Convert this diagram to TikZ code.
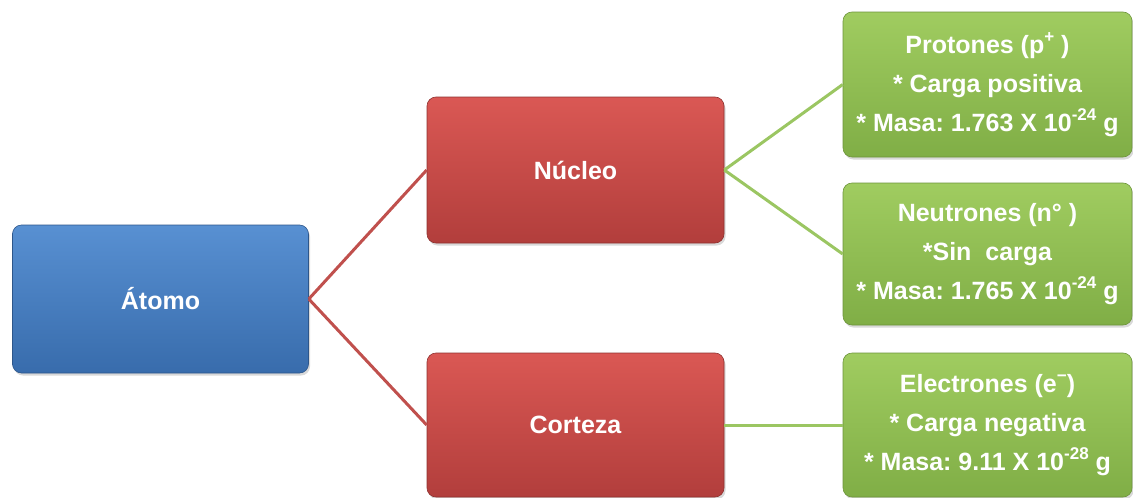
\documentclass[tikz,border=0pt]{standalone}
\usepackage{fontspec}
\setmainfont{Liberation Sans}
\usetikzlibrary{shadows}
\frenchspacing
\definecolor{bluetop}{RGB}{88,144,210}
\definecolor{bluebot}{RGB}{56,108,172}
\definecolor{redtop}{RGB}{218,88,84}
\definecolor{redbot}{RGB}{178,62,60}
\definecolor{greentop}{RGB}{160,204,96}
\definecolor{greenbot}{RGB}{128,174,70}
\definecolor{redline}{RGB}{192,80,77}
\definecolor{greenline}{RGB}{155,198,98}
\tikzset{
  box/.style={rectangle, rounded corners=9pt, align=center, text=white,
    font=\fontsize{25}{39}\selectfont\bfseries, inner sep=0pt,
    drop shadow={opacity=0.3, shadow xshift=1.5pt, shadow yshift=-2.5pt}},
  bluebox/.style={box, top color=bluetop, bottom color=bluebot, draw=bluebot!80!black, line width=0.6pt},
  redbox/.style={box, top color=redtop, bottom color=redbot, draw=redbot!80!black, line width=0.6pt},
  greenbox/.style={box, top color=greentop, bottom color=greenbot, draw=greenbot!85!black, line width=0.6pt},
  redconn/.style={draw=redline, line width=3pt},
  greenconn/.style={draw=greenline, line width=3pt}
}
\newcommand{\supr}[1]{\raisebox{0.45em}{\fontsize{17}{17}\selectfont #1}}
\begin{document}
\begin{tikzpicture}[x=1pt,y=-1pt]
\useasboundingbox (0,0) rectangle (1133,498);
\node[bluebox, minimum width=296pt, minimum height=148pt] (atomo) at (160.5,299) {Átomo};
\node[redbox, minimum width=297pt, minimum height=146pt] (nucleo) at (575.5,170) {Núcleo};
\node[redbox, minimum width=297pt, minimum height=144pt] (corteza) at (575.5,425) {Corteza};
\node[greenbox, minimum width=289pt, minimum height=145pt] (protones) at (987.5,84.5)
  {Protones (p\supr{+} )\\* Carga positiva\\* Masa: 1.763 X 10\supr{-24} g};
\node[greenbox, minimum width=289pt, minimum height=142pt] (neutrones) at (987.5,254)
  {Neutrones (n° )\\*Sin\ \ carga\\* Masa: 1.765 X 10\supr{-24} g};
\node[greenbox, minimum width=289pt, minimum height=144pt] (electrones) at (987.5,425)
  {Electrones (e\supr{−})\\* Carga negativa\\* Masa: 9.11 X 10\supr{-28} g};
\draw[redconn] (atomo.east) -- (nucleo.west);
\draw[redconn] (atomo.east) -- (corteza.west);
\draw[greenconn] (nucleo.east) -- (protones.west);
\draw[greenconn] (nucleo.east) -- (neutrones.west);
\draw[greenconn] (corteza.east) -- (electrones.west);
\end{tikzpicture}
\end{document}
